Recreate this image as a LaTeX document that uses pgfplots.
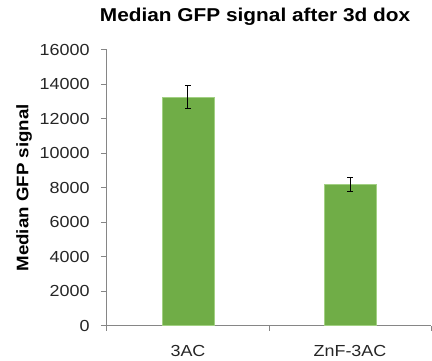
\documentclass[border=0pt]{standalone}
\usepackage{pgfplots}
\pgfplotsset{compat=1.18}
\usepackage{fontspec}
\setmainfont{Liberation Sans}[FakeStretch=1.12]

\definecolor{bargreen}{HTML}{70AD47}
\definecolor{baredge}{HTML}{A2D083}
\definecolor{axisgray}{HTML}{868686}
\definecolor{labelgray}{HTML}{262626}

\begin{document}
\begin{tikzpicture}
\path[use as bounding box] (-107bp,-35.3bp) rectangle (325bp,325.7bp);
\begin{axis}[
  at={(0,0)}, anchor=south west,
  scale only axis,
  width=324bp, height=275.7bp,
  xmin=-0.5, xmax=1.5,
  ymin=0, ymax=16000,
  ytick={0,2000,...,16000},
  scaled y ticks=false,
  yticklabel={\pgfmathprintnumber[fixed,precision=0,1000 sep={}]{\tick}},
  xtick={0,1},
  xticklabels={3AC, ZnF-3AC},
  minor xtick={-0.5,0.5,1.5},
  major x tick style={draw=none},
  tick align=outside,
  major tick length=6bp,
  minor tick length=5bp,
  axis x line*=bottom,
  axis y line*=left,
  axis line style={draw=axisgray, line width=1bp},
  tick style={draw=axisgray, line width=1bp},
  /pgf/number format/assume math mode=true,
  ticklabel style={font=\fontsize{16bp}{18bp}\selectfont, text=labelgray},
  yticklabel style={anchor=east, xshift=-8bp},
  xticklabel style={anchor=base, yshift=-25bp},
  title={Median GFP signal after 3d dox},
  title style={at={(axis description cs:0.457,1.0834)}, anchor=base,
    font=\fontsize{18.6bp}{21bp}\selectfont\bfseries},
  ylabel={Median GFP signal},
  ylabel style={at={(axis description cs:-0.2429,0.5)}, anchor=base,
    font=\fontsize{16.7bp}{19bp}\selectfont\bfseries},
  clip=false,
]
\addplot[ybar, bar width=51.6bp, fill=bargreen, draw=baredge, line width=0.6bp,
  error bars/.cd, y dir=both, y explicit,
  error bar style={black, line width=1bp},
  error mark options={rotate=90, mark size=3bp, line width=1bp, black}]
  coordinates {
    (0, 13250) +- (0, 670)
    (1, 8180) +- (0, 410)
  };
\end{axis}
\end{tikzpicture}
\end{document}
